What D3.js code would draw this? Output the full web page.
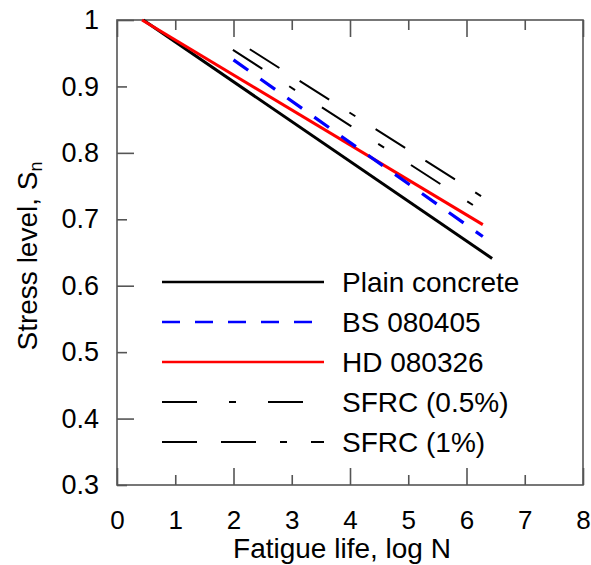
<!DOCTYPE html>
<html>
<head>
<meta charset="utf-8">
<script src="https://cdn.jsdelivr.net/npm/d3@7"></script>
<style>
  body { margin: 0; background: #fff; }
  text { font-family: "Liberation Sans", Arial, sans-serif; fill: #000; }
</style>
</head>
<body>
<div id="chart"></div>
<script>
// Data (log N, stress level)
const seriesNames = ["Plain concrete", "BS 080405", "HD 080326", "SFRC (0.5%)", "SFRC (1%)"];
const plainLogN = [0.45, 6.44];
const plainS = [1.0, 0.641];
const bsLogN = [2.0, 6.28];
const bsS = [0.94, 0.674];
const hdLogN = [0.43, 6.28];
const hdS = [1.0, 0.692];
const sfrc05LogN = [1.99, 6.11];
const sfrc05S = [0.955, 0.7215];
const sfrc1LogN = [2.28, 6.25];
const sfrc1S = [0.956, 0.735];

const xTicks = [0, 1, 2, 3, 4, 5, 6, 7, 8];
const yTicks = [0.3, 0.4, 0.5, 0.6, 0.7, 0.8, 0.9, 1.0];

const width = 591, height = 565;
const margin = { top: 20, right: 8, bottom: 80, left: 117 };
const w = width - margin.left - margin.right;
const h = height - margin.top - margin.bottom;

const svg = d3.select("#chart").append("svg")
  .attr("width", width)
  .attr("height", height);

const x = d3.scaleLinear().domain([0, 8]).range([margin.left, margin.left + w]);
const y = d3.scaleLinear().domain([0.3, 1]).range([margin.top + h, margin.top]);

const axisColor = "#555";
const major = 17, minor = 10;

function styleAxis(g, size) {
  g.select(".domain").remove();
  g.selectAll(".tick line").attr("stroke", axisColor).attr("stroke-width", 1.6);
  g.selectAll("text").style("font-size", size + "px").attr("fill", "#000");
}

// bottom axis, longer ticks on even values
const xMajor = xTicks.filter(d => d % 2 === 0);
const xMinor = xTicks.filter(d => d % 2 === 1);
[[xMajor, major], [xMinor, minor]].forEach(([vals, len]) => {
  svg.append("g").attr("transform", "translate(0," + (margin.top + h) + ")")
    .call(d3.axisBottom(x).tickValues(vals).tickSize(-len).tickPadding(26).tickFormat(d3.format("d")))
    .call(styleAxis, 26);
  // top ticks, no labels
  svg.append("g").attr("transform", "translate(0," + margin.top + ")")
    .call(d3.axisTop(x).tickValues(vals).tickSize(-len).tickFormat(""))
    .call(styleAxis, 26);
});

// left axis
const yFmt = d => d === 1 ? "1" : d.toFixed(1);
const yMajor = yTicks.filter((d, i) => i % 2 === 1);
const yMinor = yTicks.filter((d, i) => i % 2 === 0);
[[yMajor, major], [yMinor, minor]].forEach(([vals, len]) => {
  svg.append("g").attr("transform", "translate(" + margin.left + ",0)")
    .call(d3.axisLeft(y).tickValues(vals).tickSize(-len).tickPadding(18).tickFormat(yFmt))
    .call(styleAxis, 27);
});

// frame
svg.append("rect")
  .attr("x", margin.left).attr("y", margin.top)
  .attr("width", w).attr("height", h)
  .attr("fill", "none").attr("stroke", axisColor).attr("stroke-width", 1.6);

// series lines
const line = d3.line().x(d => x(d[0])).y(d => y(d[1]));
const zip = (a, b) => a.map((v, i) => [v, b[i]]);

const series = [
  { name: seriesNames[0], pts: zip(plainLogN, plainS), color: "#000", width: 3, dash: null },
  { name: seriesNames[1], pts: zip(bsLogN, bsS), color: "#0000ff", width: 3.2, dash: "18,15" },
  { name: seriesNames[2], pts: zip(hdLogN, hdS), color: "#ff0000", width: 3, dash: null },
  { name: seriesNames[3], pts: zip(sfrc05LogN, sfrc05S), color: "#000", width: 2, dash: "35,32,7,32" },
  { name: seriesNames[4], pts: zip(sfrc1LogN, sfrc1S), color: "#000", width: 2, dash: "35,24,35,24,7,24" }
];

// drawing order: plain, HD, BS, then SFRC
const drawOrder = [0, 2, 1, 3, 4].map(i => series[i]);
svg.append("g").selectAll("path")
  .data(drawOrder)
  .join("path")
  .attr("d", d => line(d.pts))
  .attr("fill", "none")
  .attr("stroke", d => d.color)
  .attr("stroke-width", d => d.width)
  .attr("stroke-dasharray", d => d.dash);

// legend
const legend = svg.append("g").attr("transform", "translate(162,282)");
const rows = legend.selectAll("g")
  .data(series)
  .join("g")
  .attr("transform", (d, i) => "translate(0," + (i * 40) + ")");
rows.append("line")
  .attr("x1", 0).attr("x2", 162)
  .attr("stroke", d => d.color)
  .attr("stroke-width", d => d.width === 2 ? 2 : 2.6)
  .attr("stroke-dasharray", d => d.dash);
rows.append("text")
  .attr("x", 180).attr("dy", "0.35em")
  .style("font-size", "28px")
  .text(d => d.name);

// axis titles
svg.append("text")
  .attr("x", 342).attr("y", 558)
  .attr("text-anchor", "middle")
  .style("font-size", "28px")
  .text("Fatigue life, log N");

const yTitle = svg.append("text")
  .attr("transform", "translate(37,256) rotate(-90)")
  .attr("text-anchor", "middle")
  .style("font-size", "28px");
yTitle.append("tspan").text("Stress level, S");
yTitle.append("tspan").attr("baseline-shift", "-25%").style("font-size", "18px").text("n");
</script>
</body>
</html>
